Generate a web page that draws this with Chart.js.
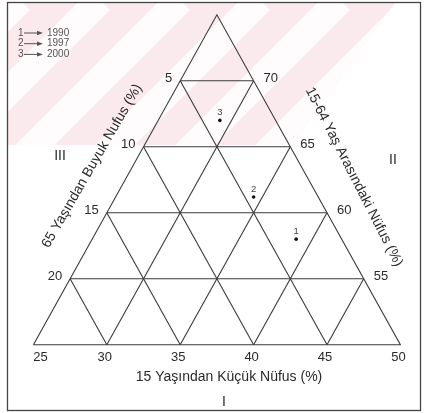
<!DOCTYPE html>
<html><head><meta charset="utf-8">
<script src="https://cdn.jsdelivr.net/npm/chart.js@4/dist/chart.umd.min.js"></script>
<style>html,body{margin:0;padding:0;background:#fff}#wrap{width:425px;height:413px;position:relative}</style>
</head><body><div id="wrap"><canvas id="c" width="425" height="413"></canvas></div>
<script>
// ---- data ----
const years = ['1990', '1997', '2000'];
const pointIds = ['1', '2', '3'];
const under15 = [38.9, 34.4, 29.2];     // 15 yaşından küçük (%)
const age15to64 = [58.0, 61.2, 67.0];   // 15-64 yaş arası (%)
const over65 = [3.1, 4.4, 3.8];         // 65 yaşından büyük (%)
const under15Ticks = [25, 30, 35, 40, 45, 50];
const age15to64Ticks = [50, 55, 60, 65, 70];
const over65Ticks = [5, 10, 15, 20, 25];
const bottomTitle = '15 Yaşından Küçük Nüfus (%)';
const leftTitle = '65 Yaşından Buyuk Nufus (%)';
const rightTitle = '15-64 Yaş Arasındaki Nüfus (%)';

// ternary -> cartesian (u: under 15, m: 15-64)
function toXY(u, m) { return { x: (u - 25) + (m - 50) / 2, y: m }; }

const LINE = '#3a3a3a';
const datasets = [];
function seg(a, b) {
  datasets.push({ type: 'line', data: [a, b], borderColor: LINE, borderWidth: 1.1,
    pointRadius: 0, fill: false, tension: 0 });
}
// outer triangle
datasets.push({ type: 'line', data: [toXY(25, 50), toXY(50, 50), toXY(25, 75), toXY(25, 50)],
  borderColor: LINE, borderWidth: 1.1, pointRadius: 0, fill: false, tension: 0 });
// horizontal lines: constant 15-64
age15to64Ticks.filter(m => m > 50).forEach(m => seg(toXY(25, m), toXY(100 - m, m)));
// constant under-15 lines
under15Ticks.filter(u => u > 25 && u < 50).forEach(u => seg(toXY(u, 50), toXY(u, 100 - u)));
// constant over-65 lines
over65Ticks.filter(o => o < 25).forEach(o => seg(toXY(25, 75 - o), toXY(50 - o, 50)));
// data points
datasets.push({ type: 'scatter', data: under15.map((u, i) => toXY(u, age15to64[i])),
  pointRadius: 1.8, pointBackgroundColor: '#111', pointBorderWidth: 0, showLine: false });

const X0 = 30, PXU = 14.96, Y50 = 347.5, PYU = 13.46;
const xMin = -X0 / PXU, xMax = (425 - X0) / PXU;
const yMin = 50 - (413 - Y50) / PYU, yMax = 75 + (Y50 - 25 * PYU) / PYU;

const deco = {
  id: 'deco',
  beforeDraw(chart) {
    const ctx = chart.ctx;
    ctx.save();
    ctx.fillStyle = '#fff';
    ctx.fillRect(0, 0, 425, 413);
    // faint pink watermark band
    ctx.beginPath();
    ctx.moveTo(8, 3); ctx.lineTo(395, 3); ctx.lineTo(292, 145); ctx.lineTo(8, 145); ctx.closePath();
    ctx.clip();
    ctx.fillStyle = 'rgb(250,233,237)';
    ctx.fillRect(0, 0, 425, 150);
    ctx.strokeStyle = 'rgba(255,255,255,0.85)';
    ctx.lineWidth = 28;
    for (let k = -220; k < 600; k += 80) {
      ctx.beginPath(); ctx.moveTo(k, 160); ctx.lineTo(k + 160, 0); ctx.stroke();
    }
    ctx.restore();
  },
  afterDraw(chart) {
    const ctx = chart.ctx, sx = chart.scales.x, sy = chart.scales.y;
    const P = (u, m) => { const p = toXY(u, m); return [sx.getPixelForValue(p.x), sy.getPixelForValue(p.y)]; };
    ctx.save();
    // frame
    ctx.strokeStyle = '#444'; ctx.lineWidth = 1.3;
    ctx.strokeRect(7.5, 2.5, 413, 408);
    ctx.fillStyle = '#2a2a2a';
    ctx.font = '13px "Liberation Sans", Arial, sans-serif';
    ctx.textBaseline = 'middle';
    // bottom ticks
    ctx.textAlign = 'center';
    under15Ticks.forEach(u => { const [x, y] = P(u, 50); ctx.fillText(String(u), x + (u === 25 ? 7 : -2), y + 13); });
    // left ticks (65+)
    ctx.textAlign = 'right';
    over65Ticks.filter(o => o < 25).forEach(o => { const [x, y] = P(25, 75 - o); ctx.fillText(String(o), x - 8, y - 2); });
    // right ticks (15-64)
    ctx.textAlign = 'left';
    age15to64Ticks.filter(m => m > 50).forEach(m => { const [x, y] = P(100 - m, m); ctx.fillText(String(m), x + 10, y - 2); });
    // titles
    ctx.textAlign = 'center';
    ctx.font = '14px "Liberation Sans", Arial, sans-serif';
    ctx.fillText(bottomTitle, 229, 377);
    ctx.fillText('I', 224, 402);
    ctx.fillText('II', 393, 160);
    ctx.fillText('III', 60, 156);
    // rotated titles
    ctx.save(); ctx.translate(92, 166); ctx.rotate(-60 * Math.PI / 180);
    ctx.fillText(leftTitle, 0, 0); ctx.restore();
    ctx.save(); ctx.translate(354, 177); ctx.rotate(63 * Math.PI / 180);
    ctx.fillText(rightTitle, 0, 0); ctx.restore();
    // point labels
    ctx.font = '9.5px "Liberation Sans", Arial, sans-serif';
    ctx.fillStyle = '#444';
    under15.forEach((u, i) => { const [x, y] = P(u, age15to64[i]); ctx.fillText(pointIds[i], x, y - 8); });
    // legend
    ctx.font = '10px "Liberation Sans", Arial, sans-serif';
    ctx.textAlign = 'left';
    ctx.fillStyle = '#555'; ctx.strokeStyle = '#555'; ctx.lineWidth = 1;
    years.forEach((yr, i) => {
      const y = 33 + i * 10.7;
      ctx.fillText(pointIds[i], 18, y);
      ctx.beginPath(); ctx.moveTo(24, y); ctx.lineTo(38, y); ctx.stroke();
      ctx.beginPath(); ctx.moveTo(43, y); ctx.lineTo(37, y - 2.2); ctx.lineTo(37, y + 2.2); ctx.closePath(); ctx.fill();
      ctx.fillText(yr, 47, y);
    });
    ctx.restore();
  }
};

new Chart(document.getElementById('c'), {
  data: { datasets },
  options: {
    responsive: false, animation: false, maintainAspectRatio: false,
    layout: { padding: 0 },
    plugins: { legend: { display: false }, tooltip: { enabled: false } },
    scales: {
      x: { type: 'linear', min: xMin, max: xMax, display: false },
      y: { type: 'linear', min: yMin, max: yMax, display: false }
    }
  },
  plugins: [deco]
});
</script></body></html>
